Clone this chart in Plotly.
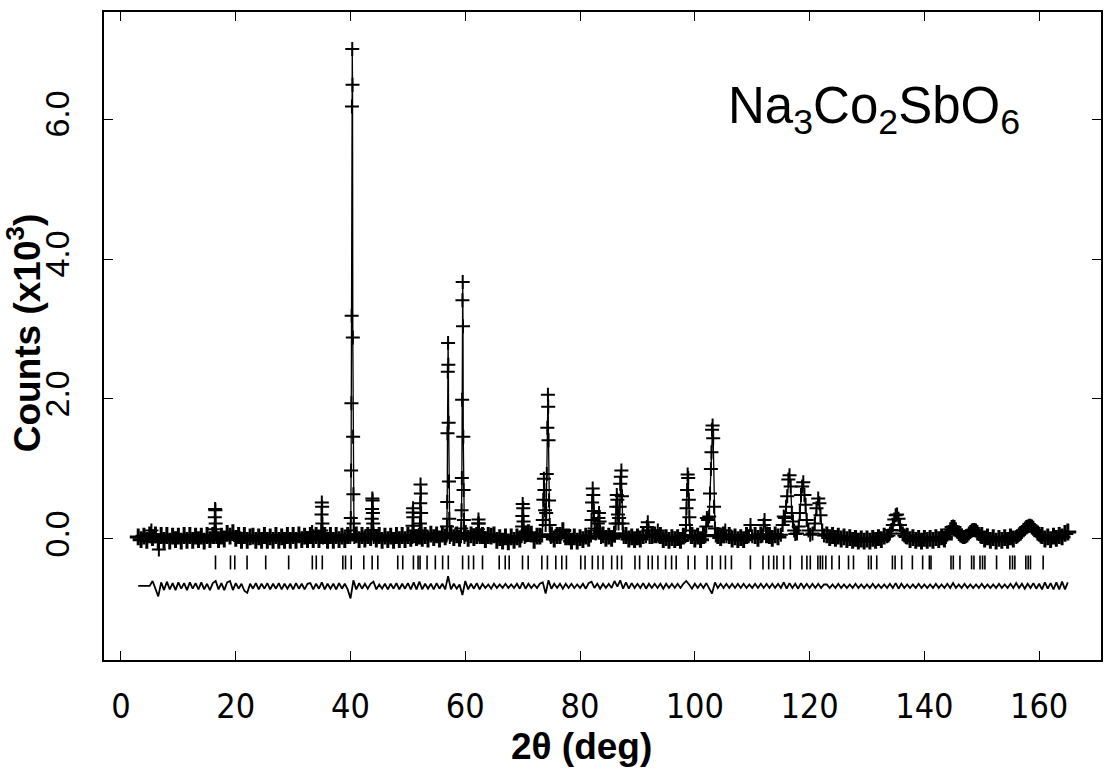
import numpy as np
import plotly.graph_objects as go

# ---------------- data ----------------
# regular scan grid of the background region (deg 2theta, step 0.5)
scan_start, scan_stop, scan_step = 3.0, 165.0, 0.5

# observed background counts (x10^3) on the scan grid, rows of 10 deg (scatter included)
bg_counts = [
    0.03, -0.01, 0.04, -0.02, 0.06, 0.02, 0.06, -0.04, 0.05, -0.02, 0.05, -0.03, 0.04, -0.01, 0.04, -0.03, 0.05, -0.02, 0.05, -0.02,
    0.04, -0.01, 0.04, -0.03, 0.05, -0.01, 0.05, 0.02, -0.01, 0.04, 0.00, 0.08, 0.04, 0.09, 0.01, 0.05, -0.02, 0.05, -0.02, 0.03,
    0.04, -0.02, 0.03, -0.02, 0.05, -0.02, 0.03, -0.02, 0.05, -0.02, 0.03, -0.02, 0.05, -0.02, 0.05, -0.02, 0.06, -0.01, 0.04, -0.01,
    0.05, -0.01, 0.05, -0.01, 0.02, 0.05, -0.02, 0.05, -0.02, 0.05, -0.01, 0.04, -0.01, 0.05, 0.02, 0.02, 0.06, -0.01, 0.05, 0.00,
    0.05, 0.02, 0.04, 0.00, 0.05, -0.02, 0.04, -0.01, 0.04, -0.02, 0.05, -0.01, 0.05, -0.01, 0.05, 0.01, 0.04, 0.02, 0.04, 0.01,
    0.05, 0.00, 0.07, 0.02, 0.06, 0.00, 0.07, 0.03, 0.05, 0.08, 0.02, 0.06, 0.01, 0.05, 0.08, 0.01, 0.06, 0.02, 0.05, 0.03,
    0.05, -0.01, 0.05, 0.04, 0.06, -0.02, 0.02, -0.03, 0.03, -0.04, 0.03, -0.02, 0.03, 0.00, 0.03, 0.07, 0.09, 0.07, -0.02, 0.04,
    0.04, 0.04, 0.04, 0.04, 0.06, 0.00, 0.05, 0.05, 0.12, 0.03, 0.03, -0.03, 0.03, -0.03, 0.02, -0.01, 0.04, 0.01, 0.04, 0.04,
    0.04, 0.04, 0.06, 0.01, 0.04, 0.01, 0.07, 0.05, 0.05, 0.05, 0.05, 0.00, 0.03, -0.01, 0.03, 0.00, 0.05, 0.03, 0.03, 0.05,
    0.06, 0.04, 0.05, -0.01, 0.02, -0.02, 0.02, -0.01, 0.02, -0.02, 0.04, 0.03, 0.03, 0.05, 0.00, 0.04, -0.01, 0.05, 0.04, 0.04,
    0.04, 0.04, 0.05, 0.02, 0.06, 0.04, 0.05, 0.00, 0.03, -0.01, 0.02, -0.01, 0.05, 0.04, 0.04, 0.05, 0.01, 0.06, 0.04, 0.06,
    0.05, 0.01, 0.06, 0.03, 0.05, 0.05, 0.05, 0.05, 0.05, 0.05, 0.05, 0.05, 0.05, 0.05, 0.05, 0.05, 0.05, 0.05, 0.05, 0.05,
    0.06, 0.02, 0.05, 0.01, 0.04, 0.00, 0.03, -0.01, 0.02, -0.02, 0.01, -0.03, 0.00, -0.03, 0.00, -0.03, 0.01, -0.02, 0.02, -0.01,
    0.04, 0.03, 0.03, 0.03, 0.03, 0.03, 0.03, 0.03, 0.04, -0.01, 0.02, -0.02, 0.01, -0.03, 0.01, -0.02, 0.01, -0.02, 0.02, -0.01,
    0.03, 0.00, 0.05, 0.05, 0.05, 0.05, 0.05, 0.05, 0.05, 0.05, 0.05, 0.05, 0.05, 0.05, 0.05, 0.00, 0.03, -0.02, 0.02, -0.03,
    0.01, -0.02, 0.02, -0.02, 0.03, 0.00, 0.05, 0.05, 0.05, 0.05, 0.05, 0.05, 0.05, 0.05, 0.05, 0.05, 0.00, 0.03, -0.01, 0.04,
    0.01, 0.05, 0.03, 0.08, 0.10,
]

# difference curve (obs - calc, drawn with offset) on the same scan grid
diff_counts = [
    -0.67, -0.67, -0.67, -0.67, -0.67, -0.60, -0.72, -0.82, -0.62, -0.73, -0.61, -0.72, -0.63, -0.73, -0.62, -0.71, -0.63, -0.73, -0.62, -0.71,
    -0.63, -0.72, -0.62, -0.72, -0.64, -0.73, -0.63, -0.60, -0.72, -0.63, -0.73, -0.62, -0.60, -0.73, -0.63, -0.71, -0.64, -0.74, -0.77, -0.64,
    -0.71, -0.63, -0.72, -0.64, -0.71, -0.63, -0.72, -0.64, -0.71, -0.63, -0.72, -0.64, -0.71, -0.64, -0.72, -0.63, -0.71, -0.64, -0.72, -0.64,
    -0.63, -0.72, -0.64, -0.71, -0.62, -0.72, -0.64, -0.71, -0.64, -0.72, -0.63, -0.71, -0.64, -0.72, -0.85, -0.59, -0.72, -0.63, -0.71, -0.64,
    -0.71, -0.64, -0.61, -0.72, -0.65, -0.71, -0.64, -0.72, -0.64, -0.71, -0.63, -0.72, -0.64, -0.71, -0.63, -0.72, -0.62, -0.72, -0.61, -0.72,
    -0.64, -0.71, -0.64, -0.72, -0.63, -0.71, -0.64, -0.72, -0.53, -0.72, -0.64, -0.71, -0.65, -0.80, -0.60, -0.72, -0.64, -0.71, -0.63, -0.72,
    -0.64, -0.70, -0.65, -0.71, -0.64, -0.70, -0.65, -0.70, -0.64, -0.70, -0.65, -0.70, -0.64, -0.71, -0.62, -0.71, -0.64, -0.70, -0.65, -0.70,
    -0.64, -0.62, -0.78, -0.59, -0.71, -0.64, -0.70, -0.64, -0.71, -0.64, -0.70, -0.64, -0.70, -0.65, -0.70, -0.64, -0.71, -0.63, -0.61, -0.70,
    -0.64, -0.71, -0.64, -0.70, -0.64, -0.70, -0.60, -0.68, -0.59, -0.71, -0.62, -0.71, -0.63, -0.70, -0.64, -0.70, -0.63, -0.71, -0.64, -0.70,
    -0.64, -0.70, -0.64, -0.71, -0.64, -0.70, -0.64, -0.70, -0.64, -0.70, -0.64, -0.60, -0.65, -0.71, -0.64, -0.70, -0.64, -0.70, -0.63, -0.70,
    -0.78, -0.62, -0.70, -0.64, -0.70, -0.64, -0.70, -0.64, -0.70, -0.64, -0.70, -0.64, -0.70, -0.65, -0.70, -0.64, -0.70, -0.64, -0.70, -0.64,
    -0.70, -0.64, -0.70, -0.64, -0.70, -0.62, -0.71, -0.63, -0.70, -0.64, -0.71, -0.63, -0.70, -0.64, -0.70, -0.64, -0.70, -0.64, -0.70, -0.65,
    -0.65, -0.70, -0.65, -0.70, -0.64, -0.70, -0.65, -0.70, -0.65, -0.70, -0.64, -0.70, -0.65, -0.70, -0.65, -0.70, -0.64, -0.70, -0.65, -0.70,
    -0.65, -0.70, -0.64, -0.70, -0.63, -0.71, -0.64, -0.70, -0.65, -0.70, -0.65, -0.70, -0.64, -0.70, -0.65, -0.70, -0.65, -0.70, -0.64, -0.70,
    -0.65, -0.70, -0.64, -0.70, -0.63, -0.70, -0.65, -0.70, -0.64, -0.70, -0.65, -0.70, -0.65, -0.70, -0.64, -0.70, -0.65, -0.70, -0.65, -0.70,
    -0.64, -0.70, -0.65, -0.70, -0.64, -0.70, -0.63, -0.70, -0.64, -0.71, -0.64, -0.70, -0.63, -0.71, -0.64, -0.72, -0.62, -0.71, -0.63, -0.72,
    -0.62, -0.72, -0.61, -0.72, -0.62,
]

# observed points across the Bragg peaks: [2theta, counts x10^3]
peak_profiles = [
    [[16.25, 0.03], [16.3, 0.14], [16.35, 0.31], [16.4, 0.43], [16.45, 0.41], [16.5, 0.22], [16.55, 0.08], [16.6, 0.03]],
    [[33.15, 0.03], [33.3, 0.10], [33.45, 0.04]],
    [[34.85, 0.03], [34.9, 0.12], [34.95, 0.35], [35.0, 0.52], [35.05, 0.46], [35.1, 0.22], [35.15, 0.08], [35.2, 0.02]],
    [[39.95, 0.03], [40.0, 0.12], [40.05, 0.30], [40.1, 0.98], [40.15, 1.94], [40.2, 3.19], [40.25, 6.18], [40.3, 7.00],
     [40.35, 6.49], [40.4, 2.88], [40.45, 1.46], [40.5, 0.64], [40.55, 0.22], [40.6, 0.07], [40.65, 0.03]],
    [[43.6, 0.04], [43.65, 0.13], [43.7, 0.29], [43.75, 0.43], [43.8, 0.58], [43.85, 0.55], [43.9, 0.37], [43.95, 0.22],
     [44.0, 0.08], [44.05, 0.03]],
    [[50.75, 0.03], [50.8, 0.19], [50.85, 0.38], [50.9, 0.44], [50.95, 0.31], [51.0, 0.12], [51.05, 0.04]],
    [[52.05, 0.04], [52.1, 0.22], [52.15, 0.51], [52.2, 0.78], [52.25, 0.65], [52.3, 0.37], [52.35, 0.12], [52.4, 0.04]],
    [[56.75, 0.05], [56.8, 0.18], [56.85, 0.53], [56.9, 1.51], [56.95, 2.39], [57.0, 2.80], [57.05, 2.49], [57.1, 1.66],
     [57.15, 0.82], [57.2, 0.29], [57.25, 0.08], [57.3, 0.03]],
    [[59.25, 0.04], [59.3, 0.15], [59.35, 0.41], [59.4, 0.87], [59.45, 1.99], [59.5, 3.41], [59.55, 3.67], [59.6, 3.04],
     [59.65, 1.46], [59.7, 0.70], [59.75, 0.27], [59.8, 0.08], [59.85, 0.03]],
    [[62.1, 0.04], [62.2, 0.14], [62.25, 0.22], [62.3, 0.28], [62.35, 0.22], [62.4, 0.10], [62.55, 0.03]],
    [[69.8, 0.04], [69.9, 0.18], [69.95, 0.33], [70.0, 0.50], [70.1, 0.44], [70.15, 0.25], [70.25, 0.08], [70.35, 0.03]],
    [[73.4, 0.05], [73.5, 0.27], [73.6, 0.56], [73.7, 0.86], [73.8, 0.70], [73.9, 0.41], [74.0, 0.20], [74.1, 0.37],
     [74.2, 0.93], [74.3, 1.59], [74.4, 2.06], [74.45, 1.89], [74.5, 1.41], [74.6, 0.55], [74.7, 0.20], [74.8, 0.06], [74.9, 0.03]],
    [[81.9, 0.05], [82.0, 0.27], [82.1, 0.52], [82.2, 0.72], [82.3, 0.63], [82.4, 0.40], [82.55, 0.15], [82.7, 0.08],
     [82.9, 0.12], [83.1, 0.22], [83.2, 0.30], [83.3, 0.37], [83.4, 0.25], [83.5, 0.10], [83.65, 0.03]],
    [[86.1, 0.05], [86.2, 0.22], [86.3, 0.46], [86.4, 0.63], [86.5, 0.56], [86.6, 0.35], [86.7, 0.22], [86.8, 0.30],
     [86.9, 0.46], [87.0, 0.79], [87.1, 0.89], [87.2, 0.98], [87.3, 0.61], [87.4, 0.22], [87.5, 0.08], [87.6, 0.03]],
    [[91.5, 0.04], [91.65, 0.17], [91.8, 0.24], [91.95, 0.12], [92.1, 0.03]],
    [[93.35, 0.04], [93.55, 0.12], [93.75, 0.04]],
    [[98.35, 0.04], [98.45, 0.20], [98.55, 0.44], [98.65, 0.70], [98.75, 0.92], [98.85, 0.87], [98.95, 0.56], [99.05, 0.31],
     [99.15, 0.12], [99.3, 0.03]],
    [[101.85, 0.04], [102.0, 0.18], [102.1, 0.30], [102.3, 0.27], [102.5, 0.32], [102.65, 0.65], [102.8, 1.00], [102.9, 1.24],
     [103.0, 1.56], [103.1, 1.62], [103.2, 1.44], [103.35, 0.46], [103.5, 0.15], [103.65, 0.05]],
    [[105.1, 0.04], [105.3, 0.12], [105.5, 0.04]],
    [[109.4, 0.04], [109.7, 0.20], [110.0, 0.04]],
    [[111.8, 0.05], [112.0, 0.20], [112.15, 0.27], [112.4, 0.06]],
    [[115.0, 0.06], [115.3, 0.20], [115.5, 0.32], [115.7, 0.30], [115.9, 0.46], [116.1, 0.61], [116.3, 0.85], [116.5, 0.91],
     [116.7, 0.75], [116.9, 0.37], [117.1, 0.25], [117.3, 0.12], [117.5, 0.07], [117.8, 0.08], [118.1, 0.18], [118.3, 0.37],
     [118.5, 0.63], [118.7, 0.75], [118.9, 0.81], [119.1, 0.63], [119.3, 0.49], [119.5, 0.27], [119.8, 0.12], [120.1, 0.06],
     [120.5, 0.08], [120.9, 0.22], [121.2, 0.44], [121.5, 0.58], [121.7, 0.51], [121.9, 0.34], [122.2, 0.12], [122.5, 0.05]],
    [[133.5, 0.04], [133.75, 0.05], [134.0, 0.08], [134.25, 0.13], [134.5, 0.20], [134.75, 0.28], [135.0, 0.34],
     [135.25, 0.35], [135.5, 0.29], [135.75, 0.20], [136.0, 0.12], [136.25, 0.08], [136.5, 0.05], [136.75, 0.03]],
    [[143.75, 0.03], [144.0, 0.06], [144.25, 0.10], [144.5, 0.14], [144.75, 0.17], [145.0, 0.18], [145.25, 0.17],
     [145.5, 0.14], [145.75, 0.10], [146.0, 0.07], [146.25, 0.05], [146.5, 0.04], [146.75, 0.03], [147.0, 0.03],
     [147.25, 0.04], [147.5, 0.05], [147.75, 0.08], [148.0, 0.10], [148.25, 0.12], [148.5, 0.13], [148.75, 0.13],
     [149.0, 0.12], [149.25, 0.10], [149.5, 0.07], [149.75, 0.04]],
    [[156.0, 0.03], [156.25, 0.04], [156.5, 0.06], [156.75, 0.08], [157.0, 0.10], [157.25, 0.13], [157.5, 0.15],
     [157.75, 0.17], [158.0, 0.18], [158.25, 0.19], [158.5, 0.19], [158.75, 0.18], [159.0, 0.16], [159.25, 0.13],
     [159.5, 0.11], [159.75, 0.08], [160.0, 0.06], [160.25, 0.04]],
]

# isolated observed points off the fitted curve
extra_obs_2theta = [5.3, 6.6]
extra_obs_counts = [0.12, -0.15]

# Bragg reflection positions (deg 2theta)
bragg_2theta = [
    16.47, 19.08, 19.83, 21.97, 25.22, 29.22, 33.34, 34.03, 35.08, 38.66, 39.13, 40.12, 42.31, 43.77, 44.75,
    48.23, 49.10, 50.96, 51.77, 52.12, 53.34, 54.78, 56.05, 57.04, 59.53, 60.57, 61.44, 63.00, 65.91, 66.96,
    67.65, 69.97, 70.96, 73.34, 74.31, 75.77, 76.82, 77.62, 80.12, 80.87, 82.14, 83.13, 84.00, 85.51, 86.49,
    87.25, 89.57, 90.38, 91.88, 92.58, 93.57, 94.90, 95.95, 96.75, 98.84, 100.00, 102.14, 103.01, 104.47,
    105.33, 106.38, 109.68, 111.88, 112.87, 113.74, 114.31, 115.48, 116.64, 118.66, 119.53, 120.12, 121.44,
    121.86, 122.26, 122.83, 123.88, 125.16, 126.78, 127.65, 130.26, 130.73, 131.70, 134.43, 134.90, 136.05,
    137.91, 139.70, 140.87, 141.16, 144.64, 145.04, 146.20, 148.23, 148.64, 149.69, 150.14, 150.55, 152.58,
    154.90, 155.36, 155.77, 157.68, 158.09, 158.49, 160.70,
]
bragg_level = -0.335

x_ticks = [0, 20, 40, 60, 80, 100, 120, 140, 160]
y_ticks = [0.0, 2.0, 4.0, 6.0]
y_tick_text = ["0.0", "2.0", "4.0", "6.0"]

# ---------------- assemble profile ----------------
scan_2theta = np.round(np.arange(scan_start, scan_stop + scan_step / 2, scan_step), 3)
windows = [(seg[0][0], seg[-1][0]) for seg in peak_profiles]
keep = [not any(lo <= t <= hi for lo, hi in windows) for t in scan_2theta]
# (2theta, counts, marker size, marker stroke)
prof = [(t, c, 12, 3) for t, c, k in zip(scan_2theta, bg_counts, keep) if k]
for seg in peak_profiles:
    prof.extend((p[0], p[1], 10, 2) for p in seg)
prof.sort(key=lambda p: p[0])
prof_x = [p[0] for p in prof]
prof_y = [p[1] for p in prof]
mark_s = [p[2] for p in prof] + [10] * len(extra_obs_2theta)
mark_w = [p[3] for p in prof] + [2] * len(extra_obs_2theta)

FONT = "Liberation Sans, Arial, Helvetica, sans-serif"
NARROW = "DejaVu Sans Condensed, Liberation Sans, sans-serif"

fig = go.Figure()
fig.add_trace(go.Scatter(
    x=prof_x + extra_obs_2theta, y=prof_y + extra_obs_counts, mode="markers",
    marker=dict(symbol="cross-thin", size=mark_s, color="black", opacity=1,
                line=dict(color="black", width=mark_w)),
    showlegend=False, hoverinfo="skip"))
fig.add_trace(go.Scatter(
    x=prof_x, y=prof_y, mode="lines", line=dict(color="black", width=1.3),
    showlegend=False, hoverinfo="skip"))
fig.add_trace(go.Scatter(
    x=bragg_2theta, y=[bragg_level] * len(bragg_2theta), mode="markers",
    marker=dict(symbol="line-ns", size=10, color="black", line=dict(color="black", width=1.6)),
    showlegend=False, hoverinfo="skip"))
fig.add_trace(go.Scatter(
    x=list(scan_2theta), y=diff_counts, mode="lines", line=dict(color="black", width=1.8),
    showlegend=False, hoverinfo="skip"))

axis_common = dict(showgrid=False, zeroline=False, showline=True, linecolor="black", linewidth=1.8,
                   mirror="ticks", ticks="inside", ticklen=9, tickwidth=1.3, tickcolor="black")

fig.update_layout(
    width=1105, height=772,
    margin=dict(l=104, r=2, t=12, b=112),
    paper_bgcolor="white", plot_bgcolor="white",
    font=dict(family=FONT, color="black"),
    xaxis=dict(range=[-2.96, 170.78], tickvals=x_ticks, ticklabelstandoff=15,
               tickfont=dict(family=NARROW, size=34, color="black"), **axis_common),
    yaxis=dict(range=[-1.729, 7.529], tickvals=y_ticks, ticktext=y_tick_text, tickangle=-90,
               ticklabelstandoff=20, tickfont=dict(family=FONT, size=34, color="black"), **axis_common),
    annotations=[
        dict(text="Na<sub>3</sub>Co<sub>2</sub>SbO<sub>6</sub>", xref="paper", yref="paper",
             x=0.6236, y=0.85, xanchor="left", yanchor="middle", showarrow=False,
             font=dict(family=FONT, size=51, color="black")),
        dict(text="<b>2θ (deg)</b>", xref="paper", yref="paper", x=0.4785, y=-0.134,
             xanchor="center", yanchor="middle", showarrow=False,
             font=dict(family=FONT, size=37, color="black")),
        dict(text="<b>Counts (x10<sup>3</sup>)</b>", xref="paper", yref="paper", x=-0.080, y=0.5046,
             xanchor="center", yanchor="middle", textangle=-90, showarrow=False,
             font=dict(family=FONT, size=37, color="black")),
    ],
)

fig.write_html("out.html")
